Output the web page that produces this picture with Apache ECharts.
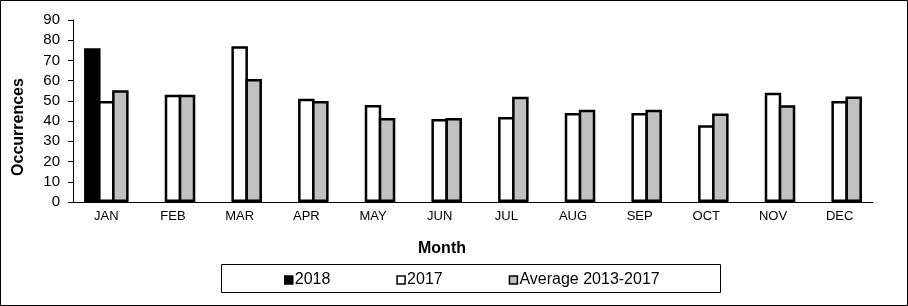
<!DOCTYPE html>
<html>
<head>
<meta charset="utf-8">
<script src="https://cdn.jsdelivr.net/npm/echarts@6/dist/echarts.min.js"></script>
<style>
  html, body { margin: 0; padding: 0; background: #fff; }
  #chart { width: 908px; height: 306px; }
</style>
</head>
<body>
<div id="chart"></div>
<script>
// 月份
const months = ['JAN', 'FEB', 'MAR', 'APR', 'MAY', 'JUN', 'JUL', 'AUG', 'SEP', 'OCT', 'NOV', 'DEC']
// 各系列数据
const y2018 = [76, null, null, null, null, null, null, null, null, null, null, null]
const y2017 = [50, 53, 77, 51, 48, 41, 42, 44, 44, 38, 54, 50]
const avg1317 = [55.2, 53, 60.8, 50, 41.6, 41.6, 52, 45.6, 45.6, 43.8, 47.8, 52.2]
const seriesNames = ['2018', '2017', 'Average 2013-2017']

const font = '"Liberation Sans", Arial, sans-serif'
const chart = echarts.init(document.getElementById('chart'))

const barStyle = (color) => ({
  color: color,
  borderColor: '#000',
  borderWidth: 2.5
})

const option = {
  animation: false,
  backgroundColor: '#fff',
  textStyle: { fontFamily: font, color: '#000' },
  grid: { left: 73, right: 35, top: 20, bottom: 104 },
  title: {
    text: 'Month',
    left: 418,
    top: 241,
    padding: 0,
    textStyle: { fontFamily: font, fontSize: 16, fontWeight: 'bold', color: '#000' }
  },
  legend: {
    data: seriesNames,
    left: 284,
    top: 272,
    padding: 0,
    icon: 'rect',
    itemWidth: 8,
    itemHeight: 8,
    itemGap: 66,
    itemStyle: { borderWidth: 1.5 },
    textStyle: { fontFamily: font, fontSize: 16, color: '#000', padding: [0, 0, 0, -3] }
  },
  xAxis: [
    {
      type: 'category',
      data: months,
      axisLine: { lineStyle: { color: '#000', width: 1 } },
      axisTick: { length: 5, lineStyle: { color: '#000' } },
      axisLabel: { fontFamily: font, fontSize: 13, color: '#000', margin: 8 }
    },
    {
      // 仅用于画向内的刻度
      type: 'category',
      data: months,
      position: 'bottom',
      axisLine: { show: false },
      axisTick: { inside: true, length: 4, lineStyle: { color: '#000' } },
      axisLabel: { show: false }
    }
  ],
  yAxis: {
    type: 'value',
    min: 0,
    max: 90,
    interval: 10,
    axisLine: { show: true, lineStyle: { color: '#000', width: 1 } },
    axisTick: { show: true, length: 5, lineStyle: { color: '#000' } },
    axisLabel: { fontFamily: font, fontSize: 15, color: '#000', margin: 13 },
    splitLine: { show: false }
  },
  series: [
    { name: seriesNames[0], type: 'bar', data: y2018, barWidth: 16.5, barGap: '-15%', itemStyle: barStyle('#000') },
    { name: seriesNames[1], type: 'bar', data: y2017, barWidth: 16.5, barGap: '-15%', itemStyle: barStyle('#fff') },
    { name: seriesNames[2], type: 'bar', data: avg1317, barWidth: 16.5, barGap: '-15%', itemStyle: barStyle('#c0c0c0') }
  ],
  graphic: [
    {
      type: 'rect',
      shape: { x: 0.5, y: 0.5, width: 907, height: 305 },
      style: { fill: null, stroke: '#000', lineWidth: 1 },
      silent: true
    },
    {
      type: 'rect',
      shape: { x: 221.5, y: 264.5, width: 499, height: 28 },
      style: { fill: null, stroke: '#000', lineWidth: 1 },
      silent: true
    },
    {
      type: 'text',
      x: 19,
      y: 127,
      rotation: Math.PI / 2,
      style: {
        text: 'Occurrences',
        fontFamily: font,
        fontSize: 16,
        fontWeight: 'bold',
        fill: '#000',
        align: 'center',
        verticalAlign: 'middle'
      }
    }
  ]
}

chart.setOption(option)
</script>
</body>
</html>
